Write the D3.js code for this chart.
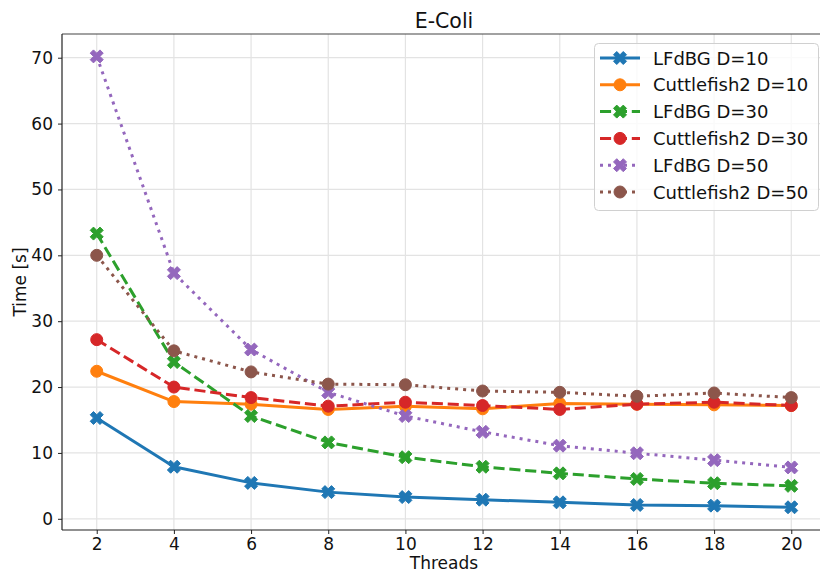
<!DOCTYPE html>
<html><head><meta charset="utf-8">
<script src="https://cdn.jsdelivr.net/npm/d3@7"></script>
<style>body{margin:0;background:#fff;overflow:hidden}svg{display:block;font-family:"DejaVu Sans",sans-serif}</style>
</head><body>
<svg id="c" width="820" height="573"></svg>
<script>
const threads = [2,4,6,8,10,12,14,16,18,20];
const lfdbg10 = [15.3,7.9,5.45,4.05,3.3,2.9,2.5,2.1,2.0,1.75];
const cuttle10 = [22.4,17.8,17.4,16.6,17.1,16.7,17.5,17.4,17.3,17.2];
const lfdbg30 = [43.3,23.8,15.6,11.6,9.35,7.9,6.9,6.05,5.4,5.0];
const cuttle30 = [27.2,20.0,18.4,17.1,17.7,17.2,16.6,17.4,17.7,17.2];
const lfdbg50 = [70.2,37.3,25.7,19.2,15.6,13.2,11.1,9.95,8.9,7.8];
const cuttle50 = [40.0,25.5,22.3,20.45,20.35,19.4,19.2,18.6,19.1,18.4];
const seriesNames = ["LFdBG D=10","Cuttlefish2 D=10","LFdBG D=30","Cuttlefish2 D=30","LFdBG D=50","Cuttlefish2 D=50"];
const yTicks = [0,10,20,30,40,50,60,70];
const xTicks = [2,4,6,8,10,12,14,16,18,20];

const colors = ["#1f77b4","#ff7f0e","#2ca02c","#d62728","#9467bd","#8c564b"];
const dashes = [null,null,"11.1,4.8","11.1,4.8","3,5","3,5"];
const markers = ["X","o","X","o","X","o"];
const values = [lfdbg10,cuttle10,lfdbg30,cuttle30,lfdbg50,cuttle50];

const L=62, R=826, T=34, B=530;
const x = d3.scaleLinear().domain([1.1,20.9]).range([L,R]);
const y = d3.scaleLinear().domain([-1.7,73.6]).range([B,T]);
const svg = d3.select("#c");

// grid
const g = svg.append("g");
g.selectAll("line.gx").data(xTicks).join("line").attr("x1",d=>x(d)).attr("x2",d=>x(d)).attr("y1",T).attr("y2",B).attr("stroke","#e3e3e3").attr("stroke-width",1.2);
g.selectAll("line.gy").data(yTicks).join("line").attr("y1",d=>y(d)).attr("y2",d=>y(d)).attr("x1",L).attr("x2",R).attr("stroke","#e3e3e3").attr("stroke-width",1.2);

// axes
const xAxis = d3.axisBottom(x).tickValues(xTicks).tickSize(4).tickPadding(4).tickFormat(d3.format("d"));
const yAxis = d3.axisLeft(y).tickValues(yTicks).tickSize(4).tickPadding(5).tickFormat(d3.format("d"));
const gx = svg.append("g").attr("transform",`translate(0,${B})`).call(xAxis);
const gy = svg.append("g").attr("transform",`translate(${L},0)`).call(yAxis);
[gx,gy].forEach(a=>{a.select(".domain").remove();a.selectAll("text").attr("font-size",17).attr("fill","#111").attr("font-family","DejaVu Sans");a.selectAll("line").attr("stroke","#222").attr("stroke-width",1);});
svg.append("line").attr("x1",L).attr("x2",R).attr("y1",T).attr("y2",T).attr("stroke","#444").attr("stroke-width",1.2);
svg.append("line").attr("x1",L).attr("x2",R).attr("y1",B).attr("y2",B).attr("stroke","#222").attr("stroke-width",1.2);
svg.append("line").attr("x1",L).attr("x2",L).attr("y1",T).attr("y2",B).attr("stroke","#222").attr("stroke-width",1.2);

// labels
svg.append("text").attr("x",(L+R)/2).attr("y",28).attr("text-anchor","middle").attr("font-size",20.5).attr("fill","#111").text("E-Coli");
svg.append("text").attr("x",(L+R)/2).attr("y",569).attr("text-anchor","middle").attr("font-size",17).attr("fill","#111").text("Threads");
svg.append("text").attr("transform",`translate(26,${(T+B)/2}) rotate(-90)`).attr("text-anchor","middle").attr("font-size",17).attr("fill","#111").text("Time [s]");

// markers
const xPts = [[0.25,0],[0.5,0.25],[0.25,0.5],[0,0.25],[-0.25,0.5],[-0.5,0.25],[-0.25,0],[-0.5,-0.25],[-0.25,-0.5],[0,-0.25],[0.25,-0.5],[0.5,-0.25]];
function markerPath(type,s){
  if(type==="X") return "M"+xPts.map(p=>[p[0]*s,p[1]*s].join(",")).join("L")+"Z";
  const r=s/2; return `M${r},0A${r},${r},0,1,1,${-r},0A${r},${r},0,1,1,${r},0Z`;
}

const line = d3.line().x(d=>x(d[0])).y(d=>y(d[1]));
const plot = svg.append("g");
values.forEach((vals,i)=>{
  const pts = threads.map((t,j)=>[t,vals[j]]);
  plot.append("path").attr("d",line(pts)).attr("fill","none").attr("stroke",colors[i]).attr("stroke-width",3)
    .attr("stroke-dasharray",dashes[i]).attr("stroke-linejoin","round").attr("stroke-linecap",dashes[i]?"butt":"round");
  plot.selectAll(null).data(pts).join("path").attr("d",markerPath(markers[i],markers[i]==="X"?13:12))
    .attr("transform",d=>`translate(${x(d[0])},${y(d[1])})`).attr("fill",colors[i]).attr("stroke",colors[i]).attr("stroke-width",1);
});

// legend
const lg = svg.append("g");
lg.append("rect").attr("x",594.5).attr("y",43.5).attr("width",224).attr("height",167).attr("rx",4).attr("fill","#fff").attr("fill-opacity",0.8).attr("stroke","#d0d0d0").attr("stroke-width",1);
seriesNames.forEach((n,i)=>{
  const yy = 58 + i*26.8;
  lg.append("line").attr("x1",600).attr("x2",640).attr("y1",yy).attr("y2",yy).attr("stroke",colors[i]).attr("stroke-width",3).attr("stroke-dasharray",dashes[i]);
  lg.append("path").attr("d",markerPath(markers[i],markers[i]==="X"?13:12)).attr("transform",`translate(620,${yy})`).attr("fill",colors[i]).attr("stroke",colors[i]);
  lg.append("text").attr("x",653).attr("y",yy+6.5).attr("font-size",18).attr("fill","#111").text(n);
});
</script>
</body></html>
